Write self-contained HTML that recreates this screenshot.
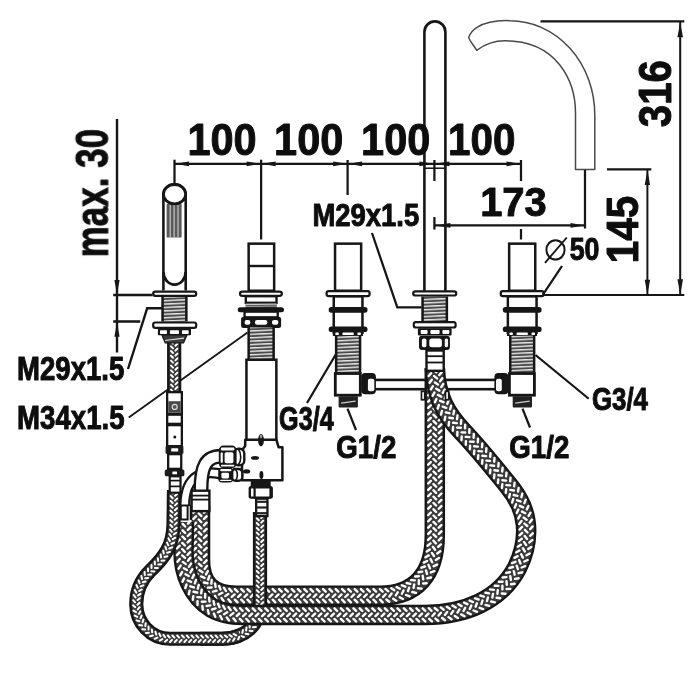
<!DOCTYPE html>
<html><head><meta charset="utf-8"><title>Faucet dimension drawing</title>
<style>
html,body{margin:0;padding:0;background:#fff;}
body{width:700px;height:700px;overflow:hidden;font-family:"Liberation Sans",sans-serif;}
svg{display:block;}
text{font-family:"Liberation Sans",sans-serif;}
</style></head><body>
<svg width="700" height="700" viewBox="0 0 700 700">
<rect width="700" height="700" fill="#fff"/>
<g filter="url(#soft)">
<defs>
<filter id="soft" x="0" y="0" width="700" height="700" filterUnits="userSpaceOnUse"><feGaussianBlur stdDeviation="0.45"/></filter>
<pattern id="thr" width="40" height="3.4" patternUnits="userSpaceOnUse" patternTransform="rotate(-2.5)">
<rect width="40" height="3.4" fill="#4c4c4c"/>
<rect y="0.9" width="40" height="1.35" fill="#eee"/>
</pattern>
</defs>
<line x1="128.75" y1="417.5" x2="247.5" y2="332.5" stroke="#141414" stroke-width="1.8" />
<rect x="370" y="379.9" width="130" height="9.3" rx="0" fill="#fff" stroke="#141414" stroke-width="2.6" />
<path d="M200,505 L200,560 C200,584 212,595.7 236,595.7 L380,595.7 C415,595.7 434.8,575 434.8,535 L434.8,368" fill="none" stroke="#141414" stroke-width="20.5"/>
<path d="M200,505 L200,560 C200,584 212,595.7 236,595.7 L380,595.7 C415,595.7 434.8,575 434.8,535 L434.8,368" fill="none" stroke="#3a3a3a" stroke-width="16.2"/>
<path d="M206.6,503.9L204.0,506.5M206.6,510.1L204.0,512.7M206.6,516.3L204.0,518.9M206.6,522.7L204.0,525.3M206.6,528.9L204.0,531.5M206.6,535.3L204.0,537.9M206.6,541.7L204.0,544.3M206.6,547.9L204.0,550.5M206.6,554.3L204.0,556.9M206.6,560.3L204.0,563.0M206.9,565.9L204.7,568.9M207.8,571.1L206.0,574.4M209.4,575.9L208.2,579.5M211.7,580.0L211.4,583.7M215.0,583.4L215.6,587.0M219.1,586.0L220.5,589.4M223.9,587.7L225.9,590.9M229.3,588.7L231.7,591.6M234.9,589.1L237.5,591.7M241.3,589.1L243.9,591.7M247.5,589.1L250.1,591.7M253.9,589.1L256.5,591.7M260.1,589.1L262.7,591.7M266.5,589.1L269.1,591.7M272.7,589.1L275.3,591.7M279.1,589.1L281.7,591.7M285.3,589.1L287.9,591.7M291.7,589.1L294.3,591.7M297.9,589.1L300.5,591.7M304.3,589.1L306.9,591.7M310.5,589.1L313.1,591.7M316.9,589.1L319.5,591.7M323.1,589.1L325.7,591.7M329.5,589.1L332.1,591.7M335.7,589.1L338.3,591.7M342.1,589.1L344.7,591.7M348.3,589.1L350.9,591.7M354.7,589.1L357.3,591.7M360.9,589.1L363.5,591.7M367.3,589.1L369.9,591.7M373.5,589.1L376.1,591.7M379.9,589.1L382.6,591.7M385.5,588.9L388.3,591.3M391.3,588.2L394.3,590.3M396.6,587.1L399.9,588.8M401.9,585.3L405.3,586.7M406.7,583.0L410.3,583.9M411.1,580.1L414.8,580.4M415.1,576.5L418.8,576.3M418.6,572.3L422.2,571.6M421.4,567.7L424.9,566.5M423.7,562.6L427.1,561.0M425.5,557.3L428.7,555.4M426.8,551.6L429.8,549.5M427.6,545.7L430.5,543.4M428.1,539.9L430.8,537.4M428.2,533.9L430.8,531.3M428.2,527.7L430.8,525.1M428.2,521.3L430.8,518.7M428.2,515.1L430.8,512.5M428.2,508.7L430.8,506.1M428.2,502.5L430.8,499.9M428.2,496.1L430.8,493.5M428.2,489.9L430.8,487.3M428.2,483.5L430.8,480.9M428.2,477.3L430.8,474.7M428.2,470.9L430.8,468.3M428.2,464.7L430.8,462.1M428.2,458.3L430.8,455.7M428.2,452.1L430.8,449.5M428.2,445.7L430.8,443.1M428.2,439.5L430.8,436.9M428.2,433.1L430.8,430.5M428.2,426.9L430.8,424.3M428.2,420.5L430.8,417.9M428.2,414.3L430.8,411.7M428.2,407.9L430.8,405.3M428.2,401.7L430.8,399.1M428.2,395.3L430.8,392.7M428.2,389.1L430.8,386.5M428.2,382.7L430.8,380.1M428.2,376.5L430.8,373.9M428.2,370.1L430.8,367.5M198.7,506.9L201.3,509.5M198.7,513.3L201.3,515.9M198.7,519.5L201.3,522.1M198.7,525.9L201.3,528.5M198.7,532.1L201.3,534.7M198.7,538.5L201.3,541.1M198.7,544.7L201.3,547.3M198.7,551.1L201.3,553.7M198.7,557.3L201.3,559.9M198.8,563.7L201.6,566.1M199.5,570.2L202.6,572.2M201.1,576.4L204.5,577.9M203.9,582.5L207.5,583.2M207.9,587.6L211.6,587.5M213.1,591.7L216.6,590.7M219.0,594.5L222.3,592.8M225.3,596.1L228.3,593.9M231.8,596.9L234.5,594.4M238.1,597.0L240.7,594.4M244.5,597.0L247.1,594.4M250.7,597.0L253.3,594.4M257.1,597.0L259.7,594.4M263.3,597.0L265.9,594.4M269.7,597.0L272.3,594.4M275.9,597.0L278.5,594.4M282.3,597.0L284.9,594.4M288.5,597.0L291.1,594.4M294.9,597.0L297.5,594.4M301.1,597.0L303.7,594.4M307.5,597.0L310.1,594.4M313.7,597.0L316.3,594.4M320.1,597.0L322.7,594.4M326.3,597.0L328.9,594.4M332.7,597.0L335.3,594.4M338.9,597.0L341.5,594.4M345.3,597.0L347.9,594.4M351.5,597.0L354.1,594.4M357.9,597.0L360.5,594.4M364.1,597.0L366.7,594.4M370.5,597.0L373.1,594.4M376.7,597.0L379.3,594.4M383.1,597.0L385.6,594.2M389.4,596.5L391.6,593.5M395.8,595.4L397.7,592.3M401.9,593.7L403.5,590.4M408.0,591.2L409.1,587.7M413.6,588.0L414.2,584.4M418.8,584.0L418.8,580.3M423.2,579.3L422.7,575.6M427.0,573.9L426.0,570.4M429.9,568.3L428.5,564.9M432.2,562.3L430.5,559.0M434.0,556.0L431.9,552.9M435.1,549.8L432.9,546.8M435.8,543.4L433.4,540.6M436.1,536.9L433.5,534.3M436.1,530.7L433.5,528.1M436.1,524.5L433.5,521.9M436.1,518.1L433.5,515.5M436.1,511.9L433.5,509.3M436.1,505.5L433.5,502.9M436.1,499.3L433.5,496.7M436.1,492.9L433.5,490.3M436.1,486.7L433.5,484.1M436.1,480.3L433.5,477.7M436.1,474.1L433.5,471.5M436.1,467.7L433.5,465.1M436.1,461.5L433.5,458.9M436.1,455.1L433.5,452.5M436.1,448.9L433.5,446.3M436.1,442.5L433.5,439.9M436.1,436.3L433.5,433.7M436.1,429.9L433.5,427.3M436.1,423.7L433.5,421.1M436.1,417.3L433.5,414.7M436.1,411.1L433.5,408.5M436.1,404.7L433.5,402.1M436.1,398.5L433.5,395.9M436.1,392.1L433.5,389.5M436.1,385.9L433.5,383.3M436.1,379.5L433.5,376.9M436.1,373.3L433.5,370.7M196.0,503.9L193.4,506.5M196.0,510.1L193.4,512.7M196.0,516.3L193.4,518.9M196.0,522.7L193.4,525.3M196.0,528.9L193.4,531.5M196.0,535.3L193.4,537.9M196.0,541.7L193.4,544.3M196.0,547.9L193.4,550.5M196.0,554.3L193.4,556.9M196.0,560.6L193.5,563.3M196.4,567.4L194.1,570.3M197.6,574.0L195.8,577.3M200.0,580.8L198.8,584.3M203.6,586.9L203.4,590.6M208.8,592.0L209.5,595.7M215.0,595.8L216.4,599.2M221.6,598.1L223.6,601.2M228.3,599.3L230.7,602.1M234.9,599.7L237.5,602.3M241.3,599.7L243.9,602.3M247.5,599.7L250.1,602.3M253.9,599.7L256.5,602.3M260.1,599.7L262.7,602.3M266.5,599.7L269.1,602.3M272.7,599.7L275.3,602.3M279.1,599.7L281.7,602.3M285.3,599.7L287.9,602.3M291.7,599.7L294.3,602.3M297.9,599.7L300.5,602.3M304.3,599.7L306.9,602.3M310.5,599.7L313.1,602.3M316.9,599.7L319.5,602.3M323.1,599.7L325.7,602.3M329.5,599.7L332.1,602.3M335.7,599.7L338.3,602.3M342.1,599.7L344.7,602.3M348.3,599.7L350.9,602.3M354.7,599.7L357.3,602.3M360.9,599.7L363.5,602.3M367.3,599.7L369.9,602.3M373.5,599.7L376.1,602.3M380.1,599.7L382.7,602.3M386.4,599.5L389.3,601.8M393.2,598.7L396.3,600.7M399.7,597.2L402.9,599.0M406.1,595.0L409.6,596.4M412.3,592.0L415.9,592.9M417.9,588.2L421.6,588.6M423.1,583.5L426.7,583.3M427.4,578.2L431.0,577.5M430.9,572.4L434.4,571.2M433.7,566.2L437.1,564.6M435.8,559.9L438.9,558.0M437.2,553.4L440.3,551.2M438.2,546.7L441.0,544.4M438.7,540.3L441.4,537.7M438.8,533.9L441.4,531.3M438.8,527.7L441.4,525.1M438.8,521.3L441.4,518.7M438.8,515.1L441.4,512.5M438.8,508.7L441.4,506.1M438.8,502.5L441.4,499.9M438.8,496.1L441.4,493.5M438.8,489.9L441.4,487.3M438.8,483.5L441.4,480.9M438.8,477.3L441.4,474.7M438.8,470.9L441.4,468.3M438.8,464.7L441.4,462.1M438.8,458.3L441.4,455.7M438.8,452.1L441.4,449.5M438.8,445.7L441.4,443.1M438.8,439.5L441.4,436.9M438.8,433.1L441.4,430.5M438.8,426.9L441.4,424.3M438.8,420.5L441.4,417.9M438.8,414.3L441.4,411.7M438.8,407.9L441.4,405.3M438.8,401.7L441.4,399.1M438.8,395.3L441.4,392.7M438.8,389.1L441.4,386.5M438.8,382.7L441.4,380.1M438.8,376.5L441.4,373.9M438.8,370.1L441.4,367.5" fill="none" stroke="#fff" stroke-width="2.4" stroke-linecap="round"/>
<path d="M260,512 L260,603 C260,625 245,638.75 222,638.75 L200,638.75" fill="none" stroke="#141414" stroke-width="14.2"/>
<path d="M260,512 L260,603 C260,625 245,638.75 222,638.75 L200,638.75" fill="none" stroke="#3a3a3a" stroke-width="9.8"/>
<path d="M263.2,511.2L261.2,513.2M263.2,516.0L261.2,518.0M263.2,520.6L261.2,522.6M263.2,525.6L261.2,527.6M263.2,530.2L261.2,532.2M263.2,535.0L261.2,537.0M263.2,540.0L261.2,542.0M263.2,544.6L261.2,546.6M263.2,549.6L261.2,551.6M263.2,554.2L261.2,556.2M263.2,559.0L261.2,561.0M263.2,564.0L261.2,566.0M263.2,568.6L261.2,570.6M263.2,573.6L261.2,575.6M263.2,578.2L261.2,580.2M263.2,583.0L261.2,585.0M263.2,588.0L261.2,590.0M263.2,592.6L261.2,594.6M263.2,597.4L261.2,599.4M263.2,602.3L261.2,604.4M263.0,607.5L260.8,609.3M262.3,612.5L259.8,614.0M260.9,617.5L258.2,618.7M258.7,622.5L255.9,623.2M255.9,626.9L253.0,627.3M252.5,630.9L249.6,630.8M248.4,634.3L245.6,633.7M244.0,637.0L241.2,636.1M239.2,639.1L236.6,637.8M234.2,640.6L231.8,639.0M229.2,641.5L227.0,639.7M224.1,641.9L222.0,639.9M219.2,642.0L217.2,639.9M214.4,642.0L212.4,639.9M209.6,642.0L207.6,639.9M204.8,642.0L202.8,639.9M256.8,513.6L258.8,515.6M256.8,518.2L258.8,520.2M256.8,523.0L258.8,525.0M256.8,528.0L258.8,530.0M256.8,532.6L258.8,534.6M256.8,537.6L258.8,539.6M256.8,542.2L258.8,544.2M256.8,547.0L258.8,549.0M256.8,552.0L258.8,554.0M256.8,556.6L258.8,558.6M256.8,561.6L258.8,563.6M256.8,566.2L258.8,568.2M256.8,571.0L258.8,573.0M256.8,576.0L258.8,578.0M256.8,580.6L258.8,582.6M256.8,585.4L258.8,587.4M256.8,590.2L258.8,592.2M256.8,595.0L258.8,597.0M256.8,600.0L258.8,602.0M256.8,604.4L258.7,606.6M256.4,608.8L258.1,611.2M255.5,613.2L256.8,615.8M254.1,617.2L255.1,620.0M252.1,621.1L252.6,624.0M249.6,624.5L249.7,627.4M246.5,627.6L246.1,630.5M243.0,630.1L242.3,632.9M239.1,632.2L238.0,634.9M235.1,633.7L233.6,636.2M230.7,634.8L229.0,637.1M226.2,635.4L224.3,637.5M221.6,635.5L219.6,637.6M216.8,635.5L214.8,637.6M212.0,635.5L210.0,637.6M207.2,635.5L205.2,637.6M202.4,635.5L200.4,637.6" fill="none" stroke="#fff" stroke-width="2.0" stroke-linecap="round"/>
<path d="M184,522 L183.5,550 C183,572 192,596 212,608 C224,614.9 236,614.9 250,614.9 L425,614.9 C465,614.9 500,600 517,568 C524,554 527,540 526,526 C525,510 518,497 508,485 C495,469 480,450 462,431 C447,415 436,398 434.8,368" fill="none" stroke="#141414" stroke-width="20.5"/>
<path d="M184,522 L183.5,550 C183,572 192,596 212,608 C224,614.9 236,614.9 250,614.9 L425,614.9 C465,614.9 500,600 517,568 C524,554 527,540 526,526 C525,510 518,497 508,485 C495,469 480,450 462,431 C447,415 436,398 434.8,368" fill="none" stroke="#3a3a3a" stroke-width="16.2"/>
<path d="M190.6,521.0L188.0,523.6M190.5,527.2L187.9,529.8M190.4,533.4L187.7,536.0M190.3,539.8L187.6,542.4M190.2,546.0L187.5,548.6M190.1,552.2L187.5,554.9M190.3,557.8L188.0,560.7M191.1,563.6L189.0,566.7M192.3,569.2L190.4,572.5M193.9,574.7L192.4,578.0M196.0,579.9L194.8,583.4M198.7,585.0L197.8,588.6M201.7,589.7L201.2,593.3M205.2,593.9L205.1,597.6M209.1,597.8L209.5,601.5M213.5,601.2L214.3,604.8M218.1,603.8L219.5,607.2M223.1,605.7L224.9,609.0M228.5,607.1L230.7,610.1M234.2,607.8L236.6,610.7M240.1,608.2L242.6,610.9M246.3,608.3L248.9,610.9M252.7,608.3L255.3,610.9M258.9,608.3L261.5,610.9M265.3,608.3L267.9,610.9M271.5,608.3L274.1,610.9M277.9,608.3L280.5,610.9M284.1,608.3L286.7,610.9M290.5,608.3L293.1,610.9M296.7,608.3L299.3,610.9M303.1,608.3L305.7,610.9M309.3,608.3L311.9,610.9M315.7,608.3L318.3,610.9M321.9,608.3L324.5,610.9M328.3,608.3L330.9,610.9M334.5,608.3L337.1,610.9M340.9,608.3L343.5,610.9M347.1,608.3L349.7,610.9M353.5,608.3L356.1,610.9M359.7,608.3L362.3,610.9M366.1,608.3L368.7,610.9M372.3,608.3L374.9,610.9M378.7,608.3L381.3,610.9M384.9,608.3L387.5,610.9M391.3,608.3L393.9,610.9M397.5,608.3L400.1,610.9M403.9,608.3L406.5,610.9M410.1,608.3L412.7,610.9M416.5,608.3L419.1,610.9M422.7,608.3L425.3,610.9M428.8,608.2L431.5,610.8M434.7,608.0L437.6,610.4M440.8,607.4L443.7,609.7M446.8,606.7L449.8,608.8M452.5,605.6L455.7,607.6M458.4,604.2L461.6,606.1M464.1,602.6L467.4,604.2M469.6,600.6L473.0,602.1M475.1,598.3L478.6,599.5M480.4,595.6L483.9,596.6M485.4,592.7L489.0,593.4M490.1,589.4L493.8,589.9M494.7,585.7L498.4,585.9M498.9,581.8L502.6,581.7M502.7,577.5L506.4,577.1M506.2,572.9L509.9,572.2M509.4,568.0L513.0,567.0M512.0,563.1L515.5,561.8M514.4,557.8L517.7,556.2M516.3,552.3L519.5,550.5M517.8,546.7L520.9,544.7M518.9,541.1L521.8,538.8M519.5,535.3L522.2,532.8M519.6,529.6L522.1,526.9M519.2,523.9L521.5,521.0M518.3,518.4L520.2,515.2M516.8,512.9L518.4,509.6M514.8,507.7L516.1,504.2M512.2,502.5L513.2,498.9M509.2,497.6L509.9,494.0M505.8,492.8L506.2,489.2M501.9,488.0L502.3,484.3M497.9,483.0L498.3,479.4M494.0,478.2L494.4,474.5M490.0,473.4L490.4,469.7M486.0,468.4L486.4,464.7M482.1,463.7L482.4,460.0M478.0,458.9L478.3,455.2M474.0,454.2L474.3,450.5M469.9,449.4L470.1,445.7M465.8,444.8L465.9,441.1M461.5,440.2L461.7,436.5M457.3,435.6L457.4,431.9M452.8,430.7L453.1,427.0M448.6,425.6L449.1,421.9M444.6,420.2L445.3,416.6M441.0,414.6L441.9,411.0M437.7,408.5L438.9,405.0M434.9,402.3L436.4,398.9M432.6,395.8L434.4,392.6M430.9,389.3L432.9,386.2M429.6,382.7L431.8,379.8M428.7,376.0L431.1,373.2M182.7,523.9L185.2,526.5M182.5,530.3L185.1,532.9M182.4,536.5L185.0,539.1M182.3,542.9L184.9,545.5M182.2,549.2L184.8,551.8M182.2,555.4L185.0,557.9M182.8,561.9L185.8,564.1M183.9,568.2L187.0,570.1M185.5,574.3L188.8,576.0M187.7,580.5L191.1,581.9M190.3,586.3L193.9,587.4M193.5,591.8L197.2,592.5M197.4,597.1L201.1,597.4M201.8,601.8L205.5,601.6M206.7,606.0L210.3,605.4M212.0,609.5L215.6,608.4M217.9,612.3L221.2,610.7M224.0,614.2L227.2,612.2M230.4,615.4L233.3,613.1M236.7,616.0L239.4,613.5M243.1,616.2L245.8,613.6M249.5,616.2L252.1,613.6M255.7,616.2L258.3,613.6M262.1,616.2L264.7,613.6M268.3,616.2L270.9,613.6M274.7,616.2L277.3,613.6M280.9,616.2L283.5,613.6M287.3,616.2L289.9,613.6M293.5,616.2L296.1,613.6M299.9,616.2L302.5,613.6M306.1,616.2L308.7,613.6M312.5,616.2L315.1,613.6M318.7,616.2L321.3,613.6M325.1,616.2L327.7,613.6M331.3,616.2L333.9,613.6M337.7,616.2L340.3,613.6M343.9,616.2L346.5,613.6M350.3,616.2L352.9,613.6M356.5,616.2L359.1,613.6M362.9,616.2L365.5,613.6M369.1,616.2L371.7,613.6M375.5,616.2L378.1,613.6M381.7,616.2L384.3,613.6M388.1,616.2L390.7,613.6M394.3,616.2L396.9,613.6M400.7,616.2L403.3,613.6M406.9,616.2L409.5,613.6M413.3,616.2L415.9,613.6M419.5,616.2L422.1,613.6M425.8,616.2L428.4,613.6M432.4,616.0L434.8,613.3M438.6,615.6L440.9,612.8M444.9,614.9L447.1,612.0M451.2,613.9L453.2,610.9M457.5,612.6L459.4,609.4M463.5,611.0L465.2,607.8M469.8,609.0L471.3,605.6M475.6,606.7L476.9,603.3M481.4,604.0L482.5,600.5M487.0,601.0L487.9,597.4M492.4,597.5L493.0,593.9M497.4,593.8L497.8,590.1M502.4,589.4L502.4,585.7M506.8,584.9L506.5,581.2M510.9,580.0L510.3,576.3M514.6,574.7L513.8,571.1M517.9,569.2L516.7,565.7M520.5,563.5L519.1,560.1M522.9,557.6L521.2,554.3M524.8,551.4L522.9,548.2M526.2,545.1L524.1,542.1M527.1,538.9L524.7,536.0M527.5,532.5L524.9,529.8M527.3,526.0L524.5,523.6M526.6,519.7L523.6,517.6M525.2,513.3L522.0,511.6M523.2,507.3L519.8,505.8M520.6,501.4L517.1,500.3M517.4,495.8L513.8,495.0M513.9,490.5L510.3,489.9M510.1,485.4L506.4,485.1M506.1,480.6L502.4,480.2M502.1,475.6L498.4,475.3M498.1,470.7L494.4,470.3M494.1,465.8L490.4,465.4M490.1,460.9L486.4,460.6M486.1,456.1L482.4,455.8M482.0,451.4L478.4,451.1M477.9,446.6L474.2,446.3M473.7,441.8L470.0,441.6M469.4,437.1L465.7,436.9M465.2,432.5L461.5,432.4M460.9,427.8L457.2,427.6M456.8,423.1L453.1,422.8M452.9,418.3L449.3,417.7M449.4,413.2L445.8,412.4M446.2,407.8L442.7,406.7M443.5,402.2L440.1,400.8M441.2,396.6L437.9,394.9M439.4,390.6L436.2,388.7M438.0,384.6L434.9,382.5M437.0,378.4L434.1,376.1M436.4,372.3L433.6,369.9M180.0,520.8L177.4,523.4M179.9,527.0L177.3,529.6M179.8,533.2L177.1,535.8M179.7,539.6L177.0,542.2M179.6,545.8L176.9,548.4M179.5,552.4L176.9,555.1M179.8,558.9L177.5,561.8M180.7,565.6L178.6,568.7M182.1,572.1L180.2,575.3M184.0,578.4L182.5,581.8M186.5,584.5L185.3,588.0M189.6,590.6L188.8,594.2M193.3,596.1L192.8,599.8M197.5,601.3L197.5,605.0M202.4,606.0L202.8,609.7M207.9,610.1L208.7,613.7M213.9,613.5L215.3,616.9M220.2,615.9L222.0,619.2M226.8,617.5L229.0,620.5M233.4,618.4L235.8,621.2M239.8,618.8L242.4,621.5M246.3,618.9L248.9,621.5M252.7,618.9L255.3,621.5M258.9,618.9L261.5,621.5M265.3,618.9L267.9,621.5M271.5,618.9L274.1,621.5M277.9,618.9L280.5,621.5M284.1,618.9L286.7,621.5M290.5,618.9L293.1,621.5M296.7,618.9L299.3,621.5M303.1,618.9L305.7,621.5M309.3,618.9L311.9,621.5M315.7,618.9L318.3,621.5M321.9,618.9L324.5,621.5M328.3,618.9L330.9,621.5M334.5,618.9L337.1,621.5M340.9,618.9L343.5,621.5M347.1,618.9L349.7,621.5M353.5,618.9L356.1,621.5M359.7,618.9L362.3,621.5M366.1,618.9L368.7,621.5M372.3,618.9L374.9,621.5M378.7,618.9L381.3,621.5M384.9,618.9L387.5,621.5M391.3,618.9L393.9,621.5M397.5,618.9L400.1,621.5M403.9,618.9L406.5,621.5M410.1,618.9L412.7,621.5M416.5,618.9L419.1,621.5M422.7,618.9L425.3,621.5M429.2,618.8L431.9,621.4M435.5,618.6L438.3,621.0M442.1,618.0L445.0,620.3M448.5,617.1L451.5,619.3M454.8,616.0L457.9,618.0M461.2,614.4L464.5,616.3M467.5,612.6L470.8,614.3M473.6,610.5L477.0,611.9M479.7,607.8L483.2,609.1M485.6,604.9L489.1,605.9M491.2,601.5L494.8,602.3M496.6,597.8L500.2,598.3M501.8,593.5L505.5,593.7M506.6,589.0L510.3,588.9M511.0,584.2L514.6,583.8M515.0,578.9L518.6,578.2M518.6,573.2L522.2,572.3M521.7,567.5L525.2,566.2M524.3,561.5L527.6,560.0M526.5,555.3L529.7,553.5M528.2,548.9L531.3,546.9M529.4,542.4L532.3,540.1M530.1,535.8L532.8,533.3M530.2,529.1L532.7,526.4M529.7,522.5L532.0,519.6M528.6,515.9L530.5,512.7M526.8,509.4L528.4,506.0M524.4,503.2L525.7,499.7M521.4,497.2L522.3,493.6M518.0,491.6L518.6,488.0M514.1,486.3L514.6,482.6M510.2,481.3L510.5,477.6M506.1,476.4L506.5,472.7M502.2,471.5L502.6,467.8M498.3,466.6L498.6,463.0M494.2,461.7L494.5,458.0M490.2,456.9L490.5,453.2M486.1,452.0L486.4,448.3M482.0,447.2L482.3,443.5M477.8,442.4L478.0,438.7M473.6,437.7L473.8,434.0M469.3,432.9L469.4,429.3M465.0,428.4L465.2,424.7M460.9,423.8L461.2,420.1M457.0,419.2L457.5,415.5M453.4,414.3L454.1,410.7M450.2,409.3L451.1,405.7M447.3,403.9L448.5,400.4M444.8,398.5L446.3,395.1M442.8,392.8L444.6,389.6M441.3,387.0L443.3,383.9M440.1,381.2L442.3,378.2M439.3,375.1L441.7,372.2" fill="none" stroke="#fff" stroke-width="2.4" stroke-linecap="round"/>
<path d="M174,490 L173.5,525 C173,545 165,557 150,571 C140,581 136,592 136.3,605 C136.5,622 150,638.75 170,638.75 L222,638.75 C229,638.75 235,637.5 240,635" fill="none" stroke="#141414" stroke-width="14.2"/>
<path d="M174,490 L173.5,525 C173,545 165,557 150,571 C140,581 136,592 136.3,605 C136.5,622 150,638.75 170,638.75 L222,638.75 C229,638.75 235,637.5 240,635" fill="none" stroke="#3a3a3a" stroke-width="9.8"/>
<path d="M177.2,489.2L175.2,491.2M177.2,493.8L175.1,495.8M177.1,498.6L175.0,500.6M177.0,503.4L175.0,505.4M177.0,508.2L174.9,510.2M176.9,513.0L174.8,515.0M176.8,517.8L174.7,519.8M176.8,522.6L174.7,524.6M176.6,527.7L174.4,529.6M176.2,532.7L173.8,534.4M175.3,537.7L172.8,539.2M174.0,542.6L171.4,543.9M172.1,547.4L169.4,548.5M170.0,551.9L167.2,552.7M167.3,556.3L164.4,556.9M164.3,560.4L161.5,560.7M161.1,564.3L158.3,564.4M157.8,567.9L154.9,567.9M154.3,571.4L151.4,571.3M151.1,574.5L148.2,574.7M148.1,577.9L145.3,578.3M145.6,581.5L142.8,582.3M143.4,585.4L140.7,586.4M141.7,589.5L139.2,590.9M140.5,593.8L138.1,595.4M139.8,598.2L137.6,600.0M139.5,602.7L137.5,604.8M139.6,607.2L137.8,609.4M140.3,611.4L138.8,613.9M141.6,615.6L140.5,618.3M143.4,619.5L142.6,622.3M145.7,623.2L145.3,626.1M148.5,626.5L148.6,629.4M151.8,629.4L152.2,632.3M155.4,631.8L156.3,634.6M159.3,633.6L160.6,636.2M163.5,634.9L165.1,637.2M167.8,635.5L169.7,637.6M172.4,635.5L174.4,637.6M177.2,635.5L179.2,637.6M182.0,635.5L184.0,637.6M186.8,635.5L188.8,637.6M191.6,635.5L193.6,637.6M196.4,635.5L198.4,637.6M201.2,635.5L203.2,637.6M206.0,635.5L208.0,637.6M210.8,635.5L212.8,637.6M215.6,635.5L217.6,637.6M220.4,635.5L222.4,637.6M225.0,635.5L227.2,637.3M229.4,635.0L231.8,636.6M233.6,634.0L236.2,635.4M170.8,491.3L172.8,493.4M170.7,496.1L172.7,498.2M170.6,500.9L172.6,503.0M170.5,505.7L172.6,507.8M170.5,510.5L172.5,512.6M170.4,515.3L172.4,517.4M170.3,520.1L172.4,522.2M170.3,524.9L172.3,527.0M170.0,529.5L171.8,531.8M169.4,534.0L171.1,536.4M168.5,538.4L169.9,540.9M167.1,542.6L168.3,545.3M165.4,546.8L166.3,549.5M163.2,550.8L163.8,553.6M160.7,554.6L161.1,557.4M157.9,558.2L158.1,561.0M154.8,561.6L154.9,564.5M151.5,565.1L151.5,568.0M148.0,568.4L148.1,571.3M144.6,572.1L144.8,575.0M141.4,576.1L142.0,579.0M138.7,580.5L139.6,583.3M136.5,585.1L137.7,587.8M134.8,590.1L136.3,592.6M133.7,595.0L135.5,597.4M133.2,600.2L135.1,602.3M133.1,605.3L135.2,607.2M133.5,610.6L136.0,612.2M134.7,615.6L137.3,616.9M136.6,620.4L139.3,621.3M139.2,625.1L142.0,625.6M142.3,629.3L145.2,629.4M146.0,633.0L148.9,632.8M150.1,636.2L152.9,635.5M154.7,638.7L157.4,637.6M159.8,640.6L162.3,639.1M165.0,641.7L167.2,639.8M170.0,642.0L172.0,639.9M174.8,642.0L176.8,639.9M179.6,642.0L181.6,639.9M184.4,642.0L186.4,639.9M189.2,642.0L191.2,639.9M194.0,642.0L196.0,639.9M198.8,642.0L200.8,639.9M203.6,642.0L205.6,639.9M208.4,642.0L210.4,639.9M213.2,642.0L215.2,639.9M218.0,642.0L220.0,639.9M222.9,642.0L224.9,639.9M228.0,641.7L229.8,639.4M233.1,640.8L234.6,638.3M238.2,639.3L239.3,636.7" fill="none" stroke="#fff" stroke-width="2.0" stroke-linecap="round"/>
<path d="M174.2,340 L174.2,393" fill="none" stroke="#141414" stroke-width="14.2"/>
<path d="M174.2,340 L174.2,393" fill="none" stroke="#3a3a3a" stroke-width="9.8"/>
<path d="M177.4,339.2L175.4,341.2M177.4,343.8L175.4,345.8M177.4,348.6L175.4,350.6M177.4,353.6L175.4,355.6M177.4,358.4L175.4,360.4M177.4,363.0L175.4,365.0M177.4,367.8L175.4,369.8M177.4,372.6L175.4,374.6M177.4,377.6L175.4,379.6M177.4,382.4L175.4,384.4M177.4,387.0L175.4,389.0M177.4,391.8L175.4,393.8M171.0,341.6L173.0,343.6M171.0,346.4L173.0,348.4M171.0,351.0L173.0,353.0M171.0,355.8L173.0,357.8M171.0,360.6L173.0,362.6M171.0,365.6L173.0,367.6M171.0,370.4L173.0,372.4M171.0,375.0L173.0,377.0M171.0,379.8L173.0,381.8M171.0,384.6L173.0,386.6M171.0,389.6L173.0,391.6" fill="none" stroke="#fff" stroke-width="2.0" stroke-linecap="round"/>
<path d="M163.4,290.5 L163.4,195 A11.15,10.6 0 0 1 185.7,195 L185.7,290.5" fill="#fff" stroke="#141414" stroke-width="2.6" />
<rect x="166.60" y="203.80" width="15.00" height="33.80" rx="1.2" fill="#585858"/>
<line x1="170.2" y1="205" x2="170.2" y2="237.6" stroke="#ddd" stroke-width="1.0" />
<line x1="174.1" y1="205" x2="174.1" y2="237.6" stroke="#ddd" stroke-width="1.0" />
<line x1="178.0" y1="205" x2="178.0" y2="237.6" stroke="#ddd" stroke-width="1.0" />
<ellipse cx="174.55" cy="194.2" rx="11.1" ry="9.7" fill="#fff" stroke="#141414" stroke-width="2.8"/>
<path d="M163.4,272 A11.15,12.6 0 0 0 185.7,272" fill="none" stroke="#141414" stroke-width="2.8" />
<rect x="161.30" y="296.50" width="26.30" height="25.10" rx="0" fill="#141414"/>
<rect x="163.80" y="296.50" width="21.30" height="25.10" fill="url(#thr)"/>
<rect x="152.10" y="290.50" width="45.20" height="6.40" rx="3.2" fill="#141414"/>
<rect x="154.30" y="292.70" width="40.80" height="2.00" rx="1.0" fill="#fff"/>
<rect x="152.10" y="321.40" width="45.20" height="7.50" rx="3.2" fill="#141414"/>
<rect x="154.30" y="323.60" width="40.80" height="3.10" rx="1.0" fill="#fff"/>
<rect x="157.90" y="328.50" width="33.10" height="6.80" rx="1" fill="#141414"/>
<rect x="160.00" y="330.20" width="7.00" height="3.80" rx="0.8" fill="#fff"/>
<rect x="169.90" y="330.20" width="9.10" height="3.80" rx="0.8" fill="#fff"/>
<rect x="181.90" y="330.20" width="6.80" height="3.80" rx="0.8" fill="#fff"/>
<polygon points="161.9,335 187,335 183.5,343 165.3,343" fill="#3a3a3a" stroke="#141414" stroke-width="1.2" stroke-linejoin="round"/>
<line x1="165" y1="340.5" x2="184" y2="338.2" stroke="#ddd" stroke-width="1.2" />
<rect x="166.00" y="391.00" width="17.00" height="24.00" rx="0" fill="#141414"/>
<rect x="168.30" y="393.30" width="12.40" height="19.40" rx="0" fill="#fff"/>
<rect x="168.30" y="401.20" width="12.40" height="11.50" rx="0" fill="#4a4a4a"/>
<circle cx="174.7" cy="406.9" r="2.5" fill="#555" stroke="#d8d8d8" stroke-width="1.2"/>
<rect x="166.00" y="413.50" width="17.00" height="11.50" rx="0" fill="#141414"/>
<rect x="168.30" y="415.80" width="12.40" height="6.90" rx="0" fill="#fff"/>
<rect x="166.00" y="424.00" width="17.00" height="23.30" rx="0" fill="#141414"/>
<rect x="168.30" y="426.30" width="12.40" height="18.70" rx="0" fill="#fff"/>
<circle cx="174.8" cy="437" r="1.5" fill="#141414"/>
<rect x="165.60" y="446.00" width="17.80" height="7.80" rx="0.8" fill="#1c1c1c"/>
<rect x="171.20" y="448.20" width="7.00" height="3.20" rx="0.5" fill="#fff"/>
<rect x="167.00" y="453.00" width="15.40" height="17.00" rx="0" fill="#141414"/>
<rect x="169.30" y="455.30" width="10.80" height="12.40" rx="0" fill="#fff"/>
<rect x="164.80" y="469.40" width="19.60" height="6.80" rx="1.5" fill="#1c1c1c"/>
<rect x="172.40" y="471.40" width="4.60" height="2.80" rx="0.5" fill="#fff"/>
<rect x="168.60" y="475.20" width="13.00" height="18.60" rx="0" fill="#141414"/>
<rect x="170.80" y="477.40" width="8.60" height="14.20" rx="0" fill="#fff"/>
<line x1="169" y1="480.6" x2="181.2" y2="480.6" stroke="#141414" stroke-width="1.7" />
<line x1="169" y1="486.4" x2="181.2" y2="486.4" stroke="#141414" stroke-width="1.7" />
<rect x="247.40" y="242.40" width="28.00" height="49.60" rx="0" fill="#141414"/>
<rect x="249.90" y="244.90" width="23.00" height="44.60" rx="0" fill="#fff"/>
<line x1="248" y1="266" x2="275" y2="266" stroke="#141414" stroke-width="2.4" />
<rect x="244.60" y="295.00" width="33.10" height="9.00" rx="0" fill="#141414"/>
<rect x="247.00" y="297.40" width="28.30" height="4.20" rx="0" fill="#fff"/>
<rect x="245.60" y="302.90" width="31.10" height="5.10" rx="0" fill="#555"/>
<line x1="246" y1="304.6" x2="276.5" y2="304.2" stroke="#ccc" stroke-width="1.0" />
<line x1="246" y1="306.5" x2="276.5" y2="306.1" stroke="#999" stroke-width="1.0" />
<rect x="238.90" y="290.60" width="44.00" height="6.30" rx="3.2" fill="#141414"/>
<rect x="241.10" y="292.80" width="39.60" height="1.90" rx="1.0" fill="#fff"/>
<rect x="237.70" y="307.20" width="46.30" height="5.10" rx="2.5" fill="#141414"/>
<rect x="243.40" y="310.50" width="35.50" height="8.00" rx="0" fill="#141414"/>
<rect x="245.70" y="312.80" width="30.90" height="3.40" rx="0" fill="#fff"/>
<rect x="241.10" y="316.80" width="40.00" height="11.20" rx="2.5" fill="#141414"/>
<rect x="244.60" y="320.00" width="5.70" height="4.80" rx="2" fill="#fff"/>
<rect x="254.90" y="320.00" width="12.50" height="4.80" rx="2.2" fill="#fff"/>
<rect x="272.00" y="320.00" width="6.30" height="4.80" rx="2" fill="#fff"/>
<rect x="247.40" y="327.40" width="27.50" height="32.10" rx="0" fill="#141414"/>
<rect x="249.90" y="327.40" width="22.50" height="32.10" fill="url(#thr)"/>
<rect x="245.20" y="358.50" width="32.40" height="83.50" rx="0" fill="#141414"/>
<rect x="247.70" y="361.00" width="27.40" height="78.50" rx="0" fill="#fff"/>
<polygon points="245.2,439.8 276.4,439.8 278.6,447.2 282.4,447.2 282.4,480.2 242,480.2 242,450 245.2,446" fill="#fff" stroke="#141414" stroke-width="2.5" stroke-linejoin="round"/>
<ellipse cx="261" cy="440.2" rx="2.9" ry="6.2" fill="#141414"/>
<ellipse cx="261" cy="436.6" rx="1.3" ry="1.8" fill="#999"/>
<ellipse cx="255" cy="457.9" rx="4" ry="1.9" fill="#141414"/>
<ellipse cx="246.6" cy="471.4" rx="3.6" ry="2.1" fill="#141414"/>
<ellipse cx="261.4" cy="475" rx="2" ry="3.9" fill="#141414"/>
<rect x="250.70" y="481.00" width="20.00" height="6.00" rx="0.5" fill="#141414"/>
<rect x="248.60" y="486.00" width="24.30" height="12.80" rx="2.5" fill="#141414"/>
<rect x="251.00" y="488.40" width="19.50" height="8.00" rx="0.10000000000000009" fill="#fff"/>
<line x1="254.6" y1="486.5" x2="254.6" y2="498.5" stroke="#141414" stroke-width="2.2" />
<line x1="270.2" y1="486.5" x2="270.2" y2="498.5" stroke="#141414" stroke-width="1.6" />
<rect x="255.00" y="497.50" width="13.60" height="19.70" rx="0" fill="#141414"/>
<rect x="257.30" y="499.80" width="9.00" height="15.10" rx="0" fill="#fff"/>
<rect x="256.50" y="500.70" width="10.50" height="2.20" rx="0" fill="#222"/>
<rect x="256.50" y="506.40" width="10.50" height="2.20" rx="0" fill="#222"/>
<rect x="256.50" y="512.10" width="10.50" height="2.20" rx="0" fill="#222"/>
<path d="M224,475 C204,469 185,474 184.75,506" fill="none" stroke="#141414" stroke-width="11"/>
<path d="M224,475 C204,469 185,474 184.75,506" fill="none" stroke="#fff" stroke-width="6.6"/>
<rect x="179.80" y="504.50" width="8.80" height="16.00" rx="0" fill="#141414"/>
<rect x="181.80" y="506.50" width="4.80" height="12.00" rx="0" fill="#fff"/>
<path d="M221,456.3 C206,456.3 201,466 201,490" fill="none" stroke="#141414" stroke-width="15"/>
<path d="M221,456.3 C206,456.3 201,466 201,490" fill="none" stroke="#fff" stroke-width="10.2"/>
<rect x="190.40" y="489.50" width="20.20" height="22.80" rx="0" fill="#141414"/>
<rect x="192.80" y="491.90" width="15.40" height="18.00" rx="0" fill="#fff"/>
<line x1="191" y1="495.6" x2="210" y2="495.6" stroke="#141414" stroke-width="1.8" />
<line x1="191" y1="499.6" x2="210" y2="499.6" stroke="#141414" stroke-width="1.8" />
<rect x="232.50" y="447.50" width="13.00" height="19.00" rx="6" fill="#141414"/>
<rect x="234.90" y="449.90" width="8.20" height="14.20" rx="3.6" fill="#fff"/>
<path d="M238.5,449.5 C241.5,453 241.5,461 238.5,464.5" fill="none" stroke="#141414" stroke-width="1.6" />
<rect x="230.50" y="467.80" width="13.00" height="14.20" rx="5" fill="#141414"/>
<rect x="232.90" y="470.20" width="8.20" height="9.40" rx="2.6" fill="#fff"/>
<path d="M235.5,469.5 C238,472 238,478 235.5,480.5" fill="none" stroke="#141414" stroke-width="1.6" />
<rect x="218.80" y="445.60" width="17.80" height="22.40" rx="4.5" fill="#141414"/>
<rect x="220.80" y="447.60" width="13.60" height="3.00" rx="1.4" fill="#fff"/>
<rect x="224.60" y="452.20" width="8.80" height="11.00" rx="1.6" fill="#fff"/>
<rect x="220.60" y="452.60" width="2.20" height="10.20" rx="0.8" fill="#fff"/>
<rect x="220.80" y="464.80" width="13.60" height="1.60" rx="0.8" fill="#fff"/>
<rect x="218.20" y="467.40" width="15.20" height="15.00" rx="4" fill="#141414"/>
<rect x="220.20" y="469.00" width="11.20" height="2.20" rx="1" fill="#fff"/>
<rect x="221.40" y="472.80" width="7.60" height="5.60" rx="1.4" fill="#fff"/>
<rect x="220.20" y="479.80" width="11.20" height="1.10" rx="0.5" fill="#fff"/>
<rect x="333.80" y="242.40" width="28.60" height="49.60" rx="0" fill="#141414"/>
<rect x="336.30" y="244.90" width="23.60" height="44.60" rx="0" fill="#fff"/>
<rect x="332.50" y="295.00" width="31.20" height="39.00" rx="0" fill="#141414"/>
<rect x="335.00" y="297.50" width="26.20" height="34.00" rx="0" fill="#fff"/>
<rect x="325.50" y="290.00" width="45.20" height="7.20" rx="3.2" fill="#141414"/>
<rect x="327.70" y="292.20" width="40.80" height="2.80" rx="1.0" fill="#fff"/>
<rect x="328.70" y="307.00" width="38.80" height="5.70" rx="2.6" fill="#141414"/>
<rect x="328.70" y="326.40" width="38.80" height="5.70" rx="2.6" fill="#141414"/>
<rect x="332.90" y="331.50" width="30.00" height="4.50" rx="0" fill="#141414"/>
<rect x="335.30" y="332.60" width="3.50" height="2.40" rx="0.8" fill="#fff"/>
<rect x="342.40" y="332.60" width="11.40" height="2.40" rx="0.8" fill="#fff"/>
<rect x="357.40" y="332.60" width="3.50" height="2.40" rx="0.8" fill="#fff"/>
<rect x="334.90" y="335.70" width="26.40" height="36.80" rx="0" fill="#141414"/>
<rect x="337.40" y="335.70" width="21.40" height="36.80" fill="url(#thr)"/>
<rect x="333.90" y="372.10" width="27.80" height="24.50" rx="0" fill="#141414"/>
<rect x="336.70" y="374.90" width="22.20" height="18.90" rx="0" fill="#fff"/>
<rect x="338.60" y="396.20" width="19.30" height="11.40" rx="1" fill="#222"/>
<line x1="341.1" y1="403.2" x2="355.6" y2="401.2" stroke="#ccc" stroke-width="1.3" />
<rect x="361.20" y="372.90" width="14.70" height="21.40" rx="4" fill="#141414"/>
<rect x="367.90" y="378.70" width="6.40" height="12.60" rx="2" fill="#fff"/>
<rect x="507.90" y="242.40" width="28.60" height="49.60" rx="0" fill="#141414"/>
<rect x="510.40" y="244.90" width="23.60" height="44.60" rx="0" fill="#fff"/>
<rect x="506.60" y="295.00" width="31.20" height="39.00" rx="0" fill="#141414"/>
<rect x="509.10" y="297.50" width="26.20" height="34.00" rx="0" fill="#fff"/>
<rect x="499.60" y="290.00" width="45.20" height="7.20" rx="3.2" fill="#141414"/>
<rect x="501.80" y="292.20" width="40.80" height="2.80" rx="1.0" fill="#fff"/>
<rect x="502.80" y="307.00" width="38.80" height="5.70" rx="2.6" fill="#141414"/>
<rect x="502.80" y="326.40" width="38.80" height="5.70" rx="2.6" fill="#141414"/>
<rect x="507.00" y="331.50" width="30.00" height="4.50" rx="0" fill="#141414"/>
<rect x="509.40" y="332.60" width="3.50" height="2.40" rx="0.8" fill="#fff"/>
<rect x="516.50" y="332.60" width="11.40" height="2.40" rx="0.8" fill="#fff"/>
<rect x="531.50" y="332.60" width="3.50" height="2.40" rx="0.8" fill="#fff"/>
<rect x="509.00" y="335.70" width="26.40" height="36.80" rx="0" fill="#141414"/>
<rect x="511.50" y="335.70" width="21.40" height="36.80" fill="url(#thr)"/>
<rect x="508.00" y="372.10" width="27.80" height="24.50" rx="0" fill="#141414"/>
<rect x="510.80" y="374.90" width="22.20" height="18.90" rx="0" fill="#fff"/>
<rect x="512.70" y="396.20" width="19.30" height="11.40" rx="1" fill="#222"/>
<line x1="515.2" y1="403.2" x2="529.7" y2="401.2" stroke="#ccc" stroke-width="1.3" />
<rect x="494.40" y="372.90" width="14.10" height="21.40" rx="4" fill="#141414"/>
<rect x="496.00" y="378.70" width="5.80" height="12.60" rx="2" fill="#fff"/>
<path d="M424.4,291 L424.4,31.9 A10.5,10.5 0 0 1 445.4,31.9 L445.4,291" fill="#fff" stroke="#141414" stroke-width="2.6" />
<rect x="421.30" y="296.50" width="26.80" height="24.80" rx="0" fill="#141414"/>
<rect x="423.80" y="296.50" width="21.80" height="24.80" fill="url(#thr)"/>
<rect x="412.10" y="290.30" width="45.20" height="6.30" rx="3.2" fill="#141414"/>
<rect x="414.30" y="292.50" width="40.80" height="1.90" rx="1.0" fill="#fff"/>
<rect x="412.70" y="321.10" width="44.00" height="7.50" rx="3.2" fill="#141414"/>
<rect x="414.90" y="323.30" width="39.60" height="3.10" rx="1.0" fill="#fff"/>
<rect x="417.90" y="328.30" width="33.70" height="7.30" rx="1" fill="#141414"/>
<rect x="420.70" y="329.90" width="6.90" height="4.00" rx="0.8" fill="#fff"/>
<rect x="430.40" y="329.90" width="9.20" height="4.00" rx="0.8" fill="#fff"/>
<rect x="442.40" y="329.90" width="6.90" height="4.00" rx="0.8" fill="#fff"/>
<rect x="419.00" y="335.80" width="30.90" height="14.10" rx="3" fill="#141414"/>
<rect x="421.90" y="338.50" width="4.50" height="8.70" rx="1.6" fill="#fff"/>
<rect x="429.30" y="338.50" width="12.60" height="8.70" rx="2.5" fill="#fff"/>
<rect x="444.70" y="338.50" width="3.40" height="8.70" rx="1.6" fill="#fff"/>
<rect x="425.30" y="349.30" width="19.60" height="22.70" rx="0" fill="#141414"/>
<rect x="427.70" y="351.70" width="14.80" height="17.90" rx="0" fill="#fff"/>
<line x1="425.8" y1="356.2" x2="444.5" y2="356.2" stroke="#141414" stroke-width="1.8" />
<line x1="425.8" y1="362.5" x2="444.5" y2="362.5" stroke="#141414" stroke-width="1.8" />
<rect x="420.60" y="390.50" width="5.00" height="10.10" rx="0" fill="#141414"/>
<rect x="422.30" y="392.20" width="1.60" height="6.70" rx="0" fill="#fff"/>
<rect x="444.60" y="390.50" width="5.00" height="10.10" rx="0" fill="#141414"/>
<rect x="446.30" y="392.20" width="1.60" height="6.70" rx="0" fill="#fff"/>
<path d="M594.8,169.6 L594.8,115 A84.8,94.3 0 0 0 510,20.7 C498,20.2 486,22 477,27.3 C473,29.8 470,33 468.7,37.4 C469.5,41 474,45.5 476.7,50.3 C484.5,44.5 495,40.8 505,40.8 C557.7,40.8 575.5,82.1 575.5,113 L575.5,169.6 Z" fill="#fff" stroke="#4a4a4a" stroke-width="1.5" stroke-linejoin="round"/>
<line x1="174.5" y1="163.8" x2="521" y2="163.8" stroke="#141414" stroke-width="2.25" />
<line x1="424.4" y1="168.2" x2="445.6" y2="168.2" stroke="#141414" stroke-width="1.5" />
<line x1="174.5" y1="159.7" x2="174.5" y2="184" stroke="#141414" stroke-width="2.25" />
<line x1="261.1" y1="159.7" x2="261.1" y2="239.5" stroke="#141414" stroke-width="2.25" />
<line x1="347.6" y1="160" x2="347.6" y2="195" stroke="#141414" stroke-width="2.25" />
<line x1="434.4" y1="160" x2="434.4" y2="181" stroke="#141414" stroke-width="2.25" />
<line x1="521" y1="160" x2="521" y2="181" stroke="#141414" stroke-width="2.25" />
<line x1="521" y1="229" x2="521" y2="239.5" stroke="#141414" stroke-width="2.25" />
<polygon points="175,163.8 189,161.4 189,166.20000000000002" fill="#141414"/>
<polygon points="260.6,163.8 246.60000000000002,161.4 246.60000000000002,166.20000000000002" fill="#141414"/>
<polygon points="261.6,163.8 275.6,161.4 275.6,166.20000000000002" fill="#141414"/>
<polygon points="347.1,163.8 333.1,161.4 333.1,166.20000000000002" fill="#141414"/>
<polygon points="348.1,163.8 362.1,161.4 362.1,166.20000000000002" fill="#141414"/>
<polygon points="434.4,163.8 419.4,161.4 419.4,166.20000000000002" fill="#141414"/>
<polygon points="434.4,163.8 449.4,161.4 449.4,166.20000000000002" fill="#141414"/>
<polygon points="520.5,163.8 506.5,161.4 506.5,166.20000000000002" fill="#141414"/>
<line x1="434.4" y1="225.4" x2="585" y2="225.4" stroke="#141414" stroke-width="2.25" />
<line x1="434.4" y1="217" x2="434.4" y2="229.5" stroke="#141414" stroke-width="2.25" />
<line x1="585" y1="170" x2="585" y2="228.5" stroke="#141414" stroke-width="2.25" />
<polygon points="435.4,225.4 450.4,223.0 450.4,227.8" fill="#141414"/>
<polygon points="584.5,225.4 570.5,223.0 570.5,227.8" fill="#141414"/>
<line x1="540.5" y1="21.3" x2="684.3" y2="21.3" stroke="#141414" stroke-width="2.2" />
<line x1="542.5" y1="295" x2="684.3" y2="295" stroke="#141414" stroke-width="2.2" />
<line x1="680.2" y1="22" x2="680.2" y2="295" stroke="#141414" stroke-width="2.0" />
<polygon points="680.2,22.3 677.4000000000001,37.3 683.0,37.3" fill="#141414"/>
<polygon points="680.2,294.3 677.4000000000001,279.3 683.0,279.3" fill="#141414"/>
<line x1="607" y1="169.4" x2="651.3" y2="169.4" stroke="#141414" stroke-width="2.2" />
<line x1="647.4" y1="170" x2="647.4" y2="295" stroke="#141414" stroke-width="2.0" />
<polygon points="647.4,170.6 644.6999999999999,185.1 650.1,185.1" fill="#141414"/>
<polygon points="647.4,294.3 644.6999999999999,279.8 650.1,279.8" fill="#141414"/>
<line x1="117.0" y1="119" x2="117.0" y2="352.5" stroke="#141414" stroke-width="2.4" />
<line x1="113.2" y1="295.1" x2="152.5" y2="295.1" stroke="#141414" stroke-width="2.5" />
<line x1="113.2" y1="321.5" x2="140.2" y2="321.5" stroke="#141414" stroke-width="2.5" />
<polygon points="117.0,294.6 114.4,280.1 119.6,280.1" fill="#141414"/>
<polygon points="117.0,322.2 114.4,336.7 119.6,336.7" fill="#141414"/>
<path d="M372,233 L397.3,307.4 L421.5,307.4" fill="none" stroke="#141414" stroke-width="2.25" />
<path d="M128,369 L147.2,308.2 L162,308.2" fill="none" stroke="#141414" stroke-width="2.4" />
<line x1="307" y1="403" x2="335.9" y2="354.3" stroke="#141414" stroke-width="2.25" />
<line x1="347.5" y1="408.6" x2="356" y2="430" stroke="#141414" stroke-width="2.25" />
<line x1="522.5" y1="408.6" x2="530" y2="427.5" stroke="#141414" stroke-width="2.25" />
<line x1="535.5" y1="355" x2="588.75" y2="398.75" stroke="#141414" stroke-width="2.25" />
<line x1="562" y1="266" x2="543" y2="294.5" stroke="#141414" stroke-width="2.25" />
<text transform="translate(187.38,154.50) scale(0.938,1)" font-size="44.2" font-weight="bold" fill="#111" stroke="#111" stroke-width="1" stroke-linejoin="round">100</text>
<text transform="translate(274.08,154.50) scale(0.938,1)" font-size="44.2" font-weight="bold" fill="#111" stroke="#111" stroke-width="1" stroke-linejoin="round">100</text>
<text transform="translate(361.08,154.50) scale(0.938,1)" font-size="44.2" font-weight="bold" fill="#111" stroke="#111" stroke-width="1" stroke-linejoin="round">100</text>
<text transform="translate(448.12,154.50) scale(0.913,1)" font-size="44.2" font-weight="bold" fill="#111" stroke="#111" stroke-width="1" stroke-linejoin="round">100</text>
<text transform="translate(480.14,215.70) scale(0.974,1)" font-size="40.98" font-weight="bold" fill="#111" stroke="#111" stroke-width="1" stroke-linejoin="round">173</text>
<text transform="translate(312.41,225.75) scale(0.8685,1)" font-size="31.62" font-weight="bold" fill="#111" stroke="#111" stroke-width="1" stroke-linejoin="round">M29x1.5</text>
<text transform="translate(17.06,379.70) scale(0.8534,1)" font-size="32.28" font-weight="bold" fill="#111" stroke="#111" stroke-width="1" stroke-linejoin="round">M29x1.5</text>
<text transform="translate(17.05,428.50) scale(0.849,1)" font-size="32.56" font-weight="bold" fill="#111" stroke="#111" stroke-width="1" stroke-linejoin="round">M34x1.5</text>
<text transform="translate(279.07,430.10) scale(0.768,1)" font-size="32.85" font-weight="bold" fill="#111" stroke="#111" stroke-width="1" stroke-linejoin="round">G3/4</text>
<text transform="translate(336.36,457.50) scale(0.8853,1)" font-size="31.25" font-weight="bold" fill="#111" stroke="#111" stroke-width="1" stroke-linejoin="round">G1/2</text>
<text transform="translate(509.36,457.50) scale(0.8853,1)" font-size="31.25" font-weight="bold" fill="#111" stroke="#111" stroke-width="1" stroke-linejoin="round">G1/2</text>
<text transform="translate(591.94,409.50) scale(0.827,1)" font-size="31.25" font-weight="bold" fill="#111" stroke="#111" stroke-width="1" stroke-linejoin="round">G3/4</text>
<text transform="translate(569.68,260.20) scale(0.8698,1)" font-size="30.82" font-weight="bold" fill="#111" stroke="#111" stroke-width="1" stroke-linejoin="round">50</text>
<ellipse cx="555.5" cy="249.9" rx="9.1" ry="9.7" fill="none" stroke="#141414" stroke-width="2"/>
<line x1="545" y1="262.8" x2="566.8" y2="237.5" stroke="#141414" stroke-width="1.9" />
<text transform="translate(107.80,257.31) rotate(-90) scale(0.769,1)" font-size="45.49" font-weight="bold" fill="#111" stroke="#111" stroke-width="1" stroke-linejoin="round">max. 30</text>
<text transform="translate(671.20,127.22) rotate(-90) scale(0.8875,1)" font-size="45.34" font-weight="bold" fill="#111" stroke="#111" stroke-width="1" stroke-linejoin="round">316</text>
<text transform="translate(637.50,263.18) rotate(-90) scale(0.928,1)" font-size="43.6" font-weight="bold" fill="#111" stroke="#111" stroke-width="1" stroke-linejoin="round">145</text>
</g>
</svg>
</body></html>
